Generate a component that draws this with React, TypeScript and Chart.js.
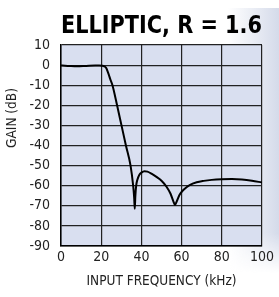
import React, { useEffect, useRef } from 'react';
import { Chart, registerables } from 'chart.js';

Chart.register(...registerables);

const titleText = 'ELLIPTIC, R = 1.6';
const xTitle = 'INPUT FREQUENCY (kHz)';
const yTitle = 'GAIN (dB)';

const freqKHz = [0, 2, 5, 8, 11, 14, 17, 19, 20.5, 21.5, 22.5, 23.5, 24.5, 25.6, 27.9, 30.1, 32.3, 34.6, 35.9, 36.4, 36.7, 37.0, 37.4, 38, 39, 40, 41.5, 43, 45, 47.5, 50, 52.5, 54.5, 56, 56.7, 57.5, 59, 61, 64, 67.5, 71, 75, 80, 85, 90, 95, 100];
const gainDB = [-0.2, -0.3, -0.5, -0.6, -0.5, -0.3, -0.2, -0.2, -0.3, -0.6, -1.5, -4, -7, -10, -20, -30, -40, -50, -60, -66, -71.5, -65, -60, -57, -54.5, -53.5, -52.8, -53, -54, -55.6, -57.5, -60.5, -64, -68, -69.5, -68, -64.5, -62, -59.7, -58.3, -57.6, -57.1, -56.8, -56.7, -56.9, -57.5, -58.4];

const xMin = 0;
const xMax = 100;
const xStep = 20;
const yMin = -90;
const yMax = 10;
const yStep = 10;

const FONT = "'Liberation Sans Narrow', 'DejaVu Sans Condensed', 'Arial Narrow', sans-serif";

const plotBg = {
  id: 'plotBg',
  beforeDraw(chart: any) {
    const { ctx, chartArea } = chart;
    if (!chartArea) return;
    ctx.save();
    ctx.fillStyle = '#d9dff0';
    ctx.fillRect(chartArea.left, chartArea.top, chartArea.right - chartArea.left, chartArea.bottom - chartArea.top);
    ctx.restore();
  },
};

const yTitlePlugin = {
  id: 'yTitlePlugin',
  afterDraw(chart: any) {
    const { ctx } = chart;
    ctx.save();
    ctx.translate(12, 118);
    ctx.rotate(-Math.PI / 2);
    ctx.font = `13.5px ${FONT}`;
    ctx.fillStyle = '#222';
    ctx.textAlign = 'center';
    ctx.textBaseline = 'middle';
    ctx.fillText(yTitle, 0, 0);
    ctx.restore();
  },
};

export default function App() {
  const ref = useRef<HTMLCanvasElement | null>(null);

  useEffect(() => {
    if (!ref.current) return;
    const points = freqKHz.map((f, i) => ({ x: f, y: gainDB[i] }));
    const chart = new Chart(ref.current, {
      type: 'line',
      data: {
        datasets: [
          {
            data: points,
            borderColor: '#000',
            borderWidth: 2,
            pointRadius: 0,
            fill: false,
            cubicInterpolationMode: 'monotone',
          },
        ],
      },
      options: {
        animation: false,
        responsive: false,
        maintainAspectRatio: false,
        layout: { padding: { left: 0, right: 17, top: 0, bottom: 0 } },
        plugins: {
          legend: { display: false },
          tooltip: { enabled: false },
          title: {
            display: true,
            text: titleText,
            fullSize: false,
            color: '#000',
            font: { family: FONT, size: 24, weight: 'bold' },
            padding: { top: 12, bottom: 4.2 },
          },
        },
        scales: {
          x: {
            type: 'linear',
            min: xMin,
            max: xMax,
            afterFit: (s: any) => {
              s.height = 51;
            },
            ticks: {
              stepSize: xStep,
              autoSkip: false,
              color: '#222',
              padding: 3,
              maxRotation: 0,
              font: { family: FONT, size: 14 },
            },
            grid: { color: '#222', lineWidth: 1.2, drawTicks: false },
            border: { display: true, color: '#000', width: 1.5 },
            title: {
              display: true,
              text: xTitle,
              color: '#222',
              font: { family: FONT, size: 13.5 },
              padding: { top: 0, bottom: 7 },
            },
          },
          y: {
            type: 'linear',
            min: yMin,
            max: yMax,
            afterFit: (s: any) => {
              s.width = 61;
            },
            ticks: {
              stepSize: yStep,
              autoSkip: false,
              color: '#222',
              padding: 11,
              font: { family: FONT, size: 14 },
            },
            grid: { color: '#222', lineWidth: 1.2, drawTicks: false },
            border: { display: true, color: '#000', width: 1.5 },
          },
        },
      },
      plugins: [plotBg, yTitlePlugin],
    } as any);
    return () => chart.destroy();
  }, []);

  return (
    <div style={{ position: 'absolute', left: 0, top: 0, width: 279, height: 297, background: '#fff', overflow: 'hidden' }}>
      <div
        style={{
          position: 'absolute',
          left: 200,
          top: 8,
          width: 79,
          height: 265,
          background: 'linear-gradient(to right, rgba(213,219,234,0) 35%, rgba(213,219,234,1) 100%)',
          WebkitMaskImage: 'linear-gradient(to bottom, #000 85%, transparent 100%)',
          maskImage: 'linear-gradient(to bottom, #000 85%, transparent 100%)',
        }}
      />
      <canvas ref={ref} width={279} height={297} style={{ position: 'absolute', left: 0, top: 0, width: 279, height: 297 }} />
    </div>
  );
}
